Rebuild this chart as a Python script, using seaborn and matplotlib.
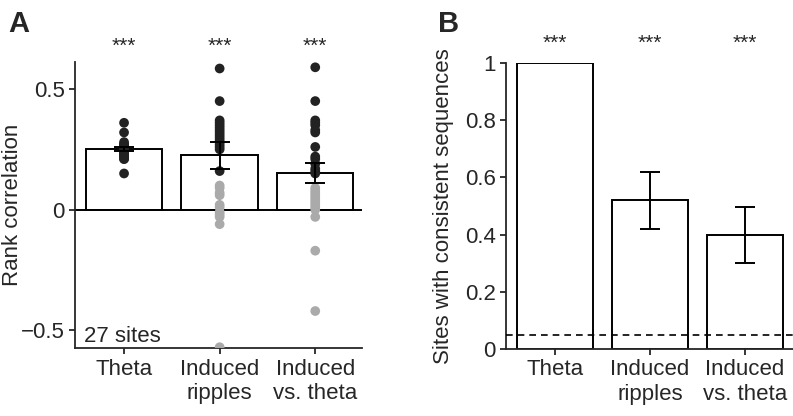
import matplotlib
matplotlib.use('Agg')
import matplotlib.pyplot as plt
import numpy as np
import pandas as pd
import seaborn as sns

conditions = ['Theta', 'Induced\nripples', 'Induced\nvs. theta']

# panel A: per-site rank correlations (27 sites)
theta_r = [0.36, 0.32, 0.28, 0.27, 0.27, 0.26, 0.26, 0.26, 0.26, 0.25, 0.25, 0.25,
           0.25, 0.25, 0.24, 0.24, 0.24, 0.24, 0.24, 0.23, 0.23, 0.23, 0.22, 0.22,
           0.21, 0.21, 0.15]
ripples_r = [0.585, 0.45, 0.37, 0.36, 0.35, 0.34, 0.33, 0.32, 0.31, 0.30, 0.29, 0.28,
             0.27, 0.26, 0.25, 0.16, 0.10, 0.09, 0.07, 0.06, 0.02, 0.01, -0.01, -0.02,
             -0.03, -0.06, -0.57]
vstheta_r = [0.59, 0.45, 0.37, 0.36, 0.35, 0.33, 0.32, 0.26, 0.22, 0.21, 0.19, 0.17,
             0.16, 0.15, 0.09, 0.08, 0.07, 0.06, 0.05, 0.04, 0.03, 0.02, 0.01, 0.0,
             -0.03, -0.17, -0.42]
theta_sig = [True] * 27
ripples_sig = [True] * 16 + [False] * 11
vstheta_sig = [True] * 14 + [False] * 13

corr_mean = [0.25, 0.225, 0.152]
corr_sem = [0.008, 0.055, 0.04]

# panel B: fraction of sites with consistent sequences
frac_consistent = [1.0, 0.52, 0.40]
frac_err = [0.0, 0.10, 0.098]
chance_level = 0.05
n_sites = 27

sns.set_style('ticks')
plt.rcParams['font.family'] = ['Liberation Sans', 'DejaVu Sans']
plt.rcParams['axes.linewidth'] = 1.3
plt.rcParams['xtick.major.width'] = 1.3
plt.rcParams['ytick.major.width'] = 1.3
plt.rcParams['xtick.major.size'] = 4
plt.rcParams['ytick.major.size'] = 4

fig = plt.figure(figsize=(7.93, 4.16), dpi=100)
axA = fig.add_axes([0.0946, 0.163, 0.362, 0.688])
axB = fig.add_axes([0.638, 0.161, 0.362, 0.6875])

pts = pd.DataFrame({
    'cond': [conditions[0]] * 27 + [conditions[1]] * 27 + [conditions[2]] * 27,
    'r': theta_r + ripples_r + vstheta_r,
    'sig': theta_sig + ripples_sig + vstheta_sig,
})
bars_a = pd.DataFrame({'cond': conditions, 'mean': corr_mean, 'sem': corr_sem})
bars_b = pd.DataFrame({'cond': conditions, 'frac': frac_consistent, 'err': frac_err})

# ---- A ----
sns.barplot(data=bars_a, x='cond', y='mean', color='white', edgecolor='black',
            linewidth=1.4, width=0.8, saturation=1, errorbar=None, ax=axA, zorder=1)
sns.stripplot(data=pts, x='cond', y='r', hue='sig', palette={True: '#222222', False: '#aaaaaa'},
              jitter=False, size=7, linewidth=0, legend=False, ax=axA, zorder=3)
axA.errorbar(np.arange(3), bars_a['mean'], yerr=bars_a['sem'], fmt='none',
             ecolor='black', elinewidth=1.4, capsize=7, capthick=1.4, zorder=4)
axA.axhline(0, color='black', lw=1.4, zorder=2)
axA.set_xlim(-0.513, 2.49)
axA.set_ylim(-0.574, 0.612)
axA.set_yticks([-0.5, 0, 0.5])
axA.set_yticklabels(['\u22120.5', '0', '0.5'])
axA.set_xlabel('')
axA.set_ylabel('Rank correlation', fontsize=16)
axA.yaxis.set_label_coords(-0.18, 0.5)
axA.tick_params(labelsize=16, direction='out')
sns.despine(ax=axA)
for i in range(3):
    axA.text(i, 0.675, '***', ha='center', va='center', fontsize=15)
axA.text(-0.42, -0.525, '%d sites' % n_sites, fontsize=16, va='center')
fig.text(0.01, 0.975, 'A', fontsize=21, fontweight='bold', va='top')

# ---- B ----
sns.barplot(data=bars_b, x='cond', y='frac', color='white', edgecolor='black',
            linewidth=1.4, width=0.8, saturation=1, errorbar=None, ax=axB)
axB.errorbar(np.arange(1, 3), bars_b['frac'][1:], yerr=bars_b['err'][1:], fmt='none',
             ecolor='black', elinewidth=1.4, capsize=7, capthick=1.4, zorder=4)
axB.axhline(chance_level, color='black', lw=1.2, ls=(0, (4, 3)), zorder=3)
axB.set_xlim(-0.516, 2.505)
axB.set_ylim(0, 1)
axB.set_yticks([0, 0.2, 0.4, 0.6, 0.8, 1])
axB.set_yticklabels(['0', '0.2', '0.4', '0.6', '0.8', '1'])
axB.set_xlabel('')
axB.set_ylabel('Sites with consistent sequences', fontsize=16)
axB.yaxis.set_label_coords(-0.18, 0.5)
axB.tick_params(labelsize=16, direction='out')
sns.despine(ax=axB)
for i in range(3):
    axB.text(i, 1.07, '***', ha='center', va='center', fontsize=15)
fig.text(0.552, 0.975, 'B', fontsize=21, fontweight='bold', va='top')

fig.savefig('out.png', dpi=100)
